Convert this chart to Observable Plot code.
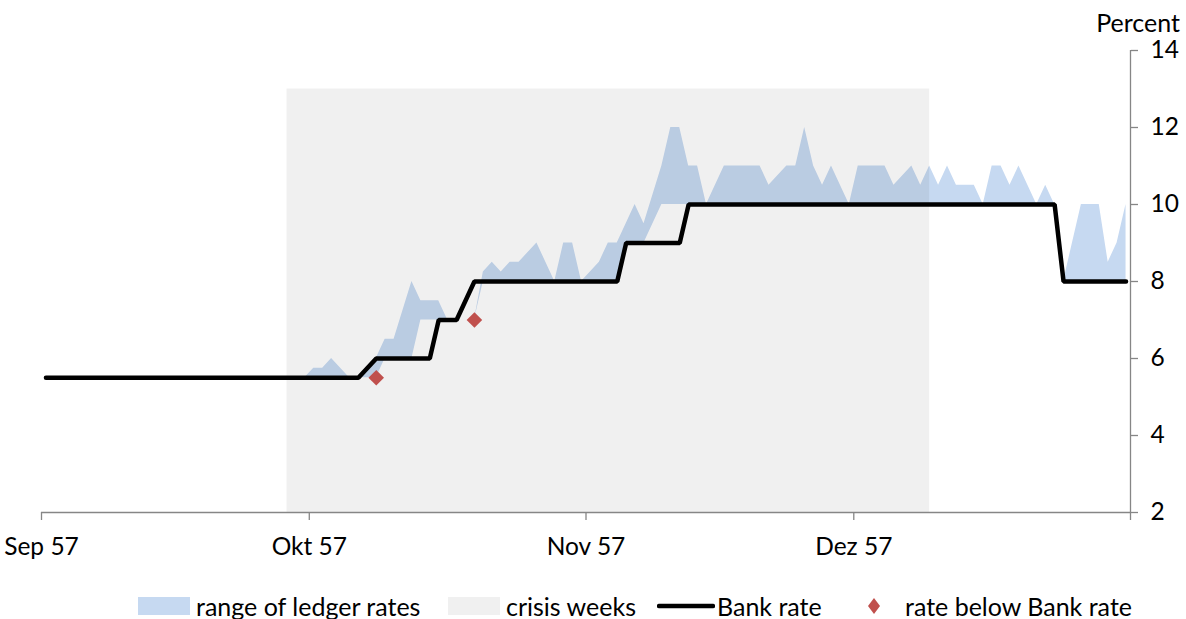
<!DOCTYPE html>
<html>
<head>
<meta charset="utf-8">
<script src="https://cdn.jsdelivr.net/npm/d3@7"></script>
<script src="https://cdn.jsdelivr.net/npm/@observablehq/plot@0.6"></script>
<style>
  html, body { margin: 0; padding: 0; background: #fff; }
  body { width: 1186px; height: 619px; position: relative; overflow: hidden; font-family: Lato, "Noto Sans", sans-serif; }
  #chart { position: absolute; left: 0; top: 0; }
  .ylab { position: absolute; top: 9px; right: 6px; font-size: 25px; line-height: 26px; color: #000; }
  .legend { position: absolute; left: 0; top: 592px; width: 1186px; height: 27px; font-size: 25px; color: #000; }
  .legend .it { position: absolute; top: 0; height: 27px; display: flex; align-items: center; white-space: nowrap; }
  .sw { display: inline-block; }
</style>
</head>
<body>
<div id="chart"></div>
<div class="ylab">Percent</div>
<div class="legend" id="legend"></div>
<script>
// ---- data ----
const ledgerDates = ["1857-09-01","1857-09-29","1857-09-30","1857-10-01","1857-10-02","1857-10-03","1857-10-05","1857-10-06","1857-10-08","1857-10-09","1857-10-10","1857-10-12","1857-10-13","1857-10-14","1857-10-15","1857-10-16","1857-10-17","1857-10-19","1857-10-20","1857-10-21","1857-10-22","1857-10-23","1857-10-24","1857-10-26","1857-10-27","1857-10-28","1857-10-29","1857-10-30","1857-10-31","1857-11-02","1857-11-03","1857-11-04","1857-11-05","1857-11-06","1857-11-07","1857-11-09","1857-11-10","1857-11-11","1857-11-12","1857-11-13","1857-11-14","1857-11-16","1857-11-17","1857-11-18","1857-11-19","1857-11-20","1857-11-21","1857-11-23","1857-11-24","1857-11-25","1857-11-26","1857-11-27","1857-11-28","1857-11-30","1857-12-01","1857-12-02","1857-12-03","1857-12-04","1857-12-05","1857-12-07","1857-12-08","1857-12-09","1857-12-10","1857-12-11","1857-12-12","1857-12-14","1857-12-15","1857-12-16","1857-12-17","1857-12-18","1857-12-19","1857-12-21","1857-12-22","1857-12-23","1857-12-24","1857-12-26","1857-12-28","1857-12-29","1857-12-30","1857-12-31"];
const ledgerLow  = [5.5,5.5,5.5,5.5,5.5,5.5,5.5,5.5,5.5,6,6,6,7,7,7,7,7,7,8,8,8,8,8,8,8,8,8,8,8,8,8,8,9,9,9,10,10,10,10,10,10,10,10,10,10,10,10,10,10,10,10,10,10,10,10,10,10,10,10,10,10,10,10,10,10,10,10,10,10,10,10,10,10,10,8,8,8,8,8,8];
const ledgerHigh = [5.5,5.5,5.5,5.75,5.75,6,5.5,5.5,6,6.5,6.5,8,7.5,7.5,7.5,7,7,7,8.25,8.5,8.25,8.5,8.5,9,8.5,8,9,9,8,8.5,9,9,9.5,10,9.5,11,12,12,11,11,10,11,11,11,11,11,10.5,11,11,12,11,10.5,11,10,11,11,11,11,10.5,11,10.5,11,10.5,11,10.5,10.5,10,11,11,10.5,11,10,10.5,10,8,10,10,8.5,9,10];

const bankDates = ["1857-09-01","1857-10-06","1857-10-08","1857-10-14","1857-10-15","1857-10-17","1857-10-19","1857-11-04","1857-11-05","1857-11-11","1857-11-12","1857-12-23","1857-12-24","1857-12-31"];
const bankRates = [5.5,5.5,6,6,7,7,8,8,9,9,10,10,8,8];

const belowDates = ["1857-10-08","1857-10-19"];
const belowRates = [5.5,7];

const crisisDates = ["1857-09-28","1857-12-09"];
const crisisTop = 13;

const monthTicks = ["1857-09-01","1857-10-01","1857-11-01","1857-12-01","1858-01-01"];
const monthLabels = ["Sep 57","Okt 57","Nov 57","Dez 57",""];
const yTicks = [2,4,6,8,10,12,14];

// ---- helpers ----
const noon = s => new Date(+new Date(s) + 12 * 3600 * 1000);
const day0 = s => new Date(s);

const ledger = ledgerDates.map((d, i) => ({date: noon(d), low: ledgerLow[i], high: ledgerHigh[i]}));
const bank = bankDates.map((d, i) => ({date: noon(d), rate: bankRates[i]}));
const below = belowDates.map((d, i) => ({date: noon(d), rate: belowRates[i]}));
const crisis = [{x1: noon(crisisDates[0]), x2: noon(crisisDates[1]), y1: yTicks[0], y2: crisisTop}];
const tickDates = monthTicks.map(day0);
const labelOf = new Map(tickDates.map((d, i) => [+d, monthLabels[i]]));

const axisColor = "#868686";

const chart = Plot.plot({
  width: 1186,
  height: 575,
  marginLeft: 41,
  marginRight: 56,
  marginTop: 50,
  marginBottom: 63,
  style: {fontFamily: "Lato, 'Noto Sans', sans-serif", fontSize: "24.5px", color: "#000", background: "transparent"},
  x: {type: "utc", domain: [tickDates[0], tickDates[tickDates.length - 1]]},
  y: {domain: [yTicks[0], yTicks[yTicks.length - 1]]},
  marks: [
    Plot.areaY(ledger, {x: "date", y1: "low", y2: "high", fill: "#C6D9F1", curve: "linear"}),
    Plot.rect(crisis, {x1: "x1", x2: "x2", y1: "y1", y2: "y2", fill: "#000", fillOpacity: 0.06}),
    Plot.ruleY([yTicks[0]], {stroke: axisColor, strokeWidth: 1.3}),
    Plot.ruleX([tickDates[tickDates.length - 1]], {y1: yTicks[0], y2: yTicks[yTicks.length - 1], stroke: axisColor, strokeWidth: 1.3}),
    Plot.axisX({ticks: tickDates, tickFormat: d => labelOf.get(+d), tickSize: 8, tickPadding: 17, stroke: axisColor, strokeWidth: 1.3, fill: "#000", fontSize: 24.5, label: null}),
    Plot.axisY({anchor: "right", ticks: yTicks, tickSize: 7, tickPadding: 13, stroke: axisColor, strokeWidth: 1.3, fill: "#000", fontSize: 24.5, label: null}),
    Plot.line(bank, {x: "date", y: "rate", stroke: "#000", strokeWidth: 4.5, strokeLinejoin: "miter", curve: "linear"}),
    Plot.dot(below, {x: "date", y: "rate", symbol: "diamond2", r: 7, fill: "#C0504D", stroke: "none"})
  ]
});
document.getElementById("chart").appendChild(chart);

// ---- legend ----
const legendItems = [
  {label: "range of ledger rates", kind: "area", color: "#C6D9F1", left: 138},
  {label: "crisis weeks", kind: "area", color: "#F0F0F0", left: 448},
  {label: "Bank rate", kind: "line", color: "#000", left: 657},
  {label: "rate below Bank rate", kind: "diamond", color: "#C0504D", left: 862}
];
const leg = document.getElementById("legend");
for (const it of legendItems) {
  const div = document.createElement("div");
  div.className = "it";
  div.style.left = it.left + "px";
  let sw;
  if (it.kind === "area") {
    sw = `<span class="sw" style="width:52px;height:18px;background:${it.color};margin-right:6px"></span>`;
  } else if (it.kind === "line") {
    sw = `<svg class="sw" width="58" height="18" style="margin-right:2px"><line x1="2" x2="56" y1="9" y2="9" stroke="${it.color}" stroke-width="4.5" stroke-linecap="round"/></svg>`;
  } else {
    sw = `<svg class="sw" width="24" height="18" style="margin-right:19px"><polygon points="12,1 18,9 12,17 6,9" fill="${it.color}"/></svg>`;
  }
  div.innerHTML = sw + `<span>${it.label}</span>`;
  leg.appendChild(div);
}
</script>
</body>
</html>
